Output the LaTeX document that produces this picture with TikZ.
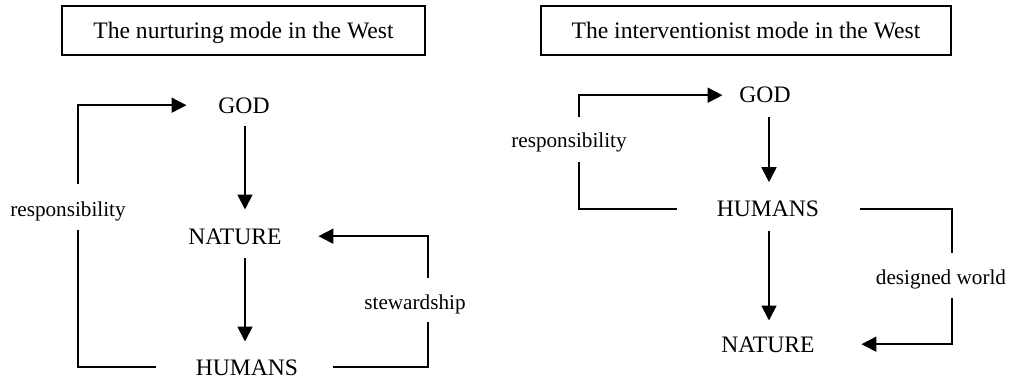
\documentclass[tikz,border=0pt]{standalone}
\usepackage{fontspec}
\setmainfont{Liberation Serif}
\usetikzlibrary{arrows.meta}

\begin{document}
\begin{tikzpicture}[x=0.5pt, y=-0.5pt, >={Triangle[length=7.5pt, width=7.5pt]}, line width=0.9pt,
        modebox/.style={rectangle, draw, line width=1pt, minimum height=24.5pt, text height=7.8pt, text depth=0pt, inner sep=0pt, font=\fontsize{11.8}{14}\selectfont},
        term/.style={inner sep=0pt, anchor=base, text height=7.8pt, text depth=0pt, font=\fontsize{11.8}{14}\selectfont},
        lbl/.style={inner sep=0pt, anchor=base, font=\fontsize{10.6}{13}\selectfont}]
        \useasboundingbox (0,0) rectangle (1009,380);

        % nurturing mode
        \node (titleL) [modebox, minimum width=181.5pt] at (243.5,30.5) {The nurturing mode in the West};
        \node (godL) [term] at (244,113) {GOD};
        \node (natL) [term] at (235,244) {NATURE};
        \node (humL) [term] at (247,375) {HUMANS};
        \node (respL) [lbl] at (68,216) {responsibility};
        \node (stew) [lbl] at (415,309) {stewardship};
        \coordinate (lpA) at (78,230);
        \coordinate (lpB) at (78,184);
        \coordinate (stA) at (428,322);
        \coordinate (stB) at (428,278);

        \draw[->, shorten <=6pt, shorten >=9pt] (godL.south -| 245,0) -- (natL.north -| 245,0);
        \draw[->, shorten <=6.5pt, shorten >=8.5pt] (natL.south -| 245,0) -- (humL.north -| 245,0);
        \draw[shorten <=19.5pt] (humL.west) -| (lpA);
        \draw[->, shorten >=15.5pt] (lpB) |- (godL.west);
        \draw[shorten <=17pt] (humL.east) -| (stA);
        \draw[->, shorten >=18pt] (stB) |- (natL.east);

        % interventionist mode
        \node (titleR) [modebox, minimum width=205pt] at (746,30.5) {The interventionist mode in the West};
        \node (godR) [term] at (765,103) {GOD};
        \node (humR) [term] at (768,216.7) {HUMANS};
        \node (natR) [term] at (768,352) {NATURE};
        \node (respR) [lbl] at (569,147.7) {responsibility};
        \node (dsgn) [lbl] at (941,284) {designed world};
        \coordinate (rpA) at (579,162);
        \coordinate (rpB) at (579,117);
        \coordinate (dwA) at (952,253);
        \coordinate (dwB) at (952,298);

        \draw[->, shorten <=6.5pt, shorten >=9pt] (godR.south -| 769,0) -- (humR.north -| 769,0);
        \draw[->, shorten <=6.5pt, shorten >=7.5pt] (humR.south -| 769,0) -- (natR.north -| 769,0);
        \draw[shorten <=19.5pt] (humR.west) -| (rpA);
        \draw[->, shorten >=8pt] (rpB) |- (godR.west);
        \draw[shorten <=20pt] (humR.east) -| (dwA);
        \draw[->, shorten >=23pt] (dwB) |- (natR.east);
\end{tikzpicture}
\end{document}
